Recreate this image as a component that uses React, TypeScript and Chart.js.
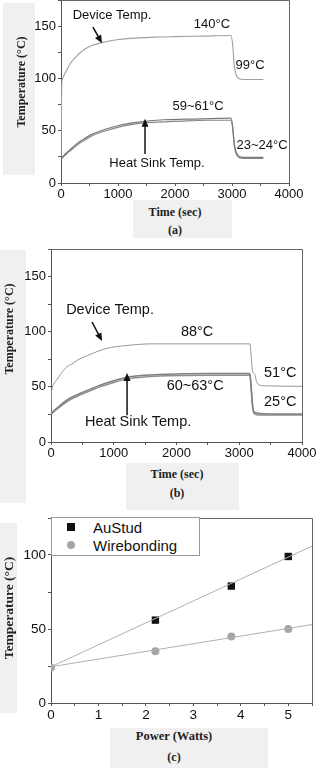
import React, { useEffect, useRef } from "react";
import { Chart, registerables } from "chart.js";
Chart.register(...registerables);

const SANS = '"Liberation Sans", Arial, sans-serif';
const SERIF = '"Liberation Serif", "Times New Roman", serif';

// ---------- Panel (a) data ----------
const timeDevA = [0, 8, 15, 30, 60, 100, 160, 250, 390, 520, 700, 980, 1300, 1650, 2000, 2500, 2980, 3010, 3040, 3070, 3100, 3140, 3250, 3550];
const deviceA = [25, 70, 96, 100, 104, 108, 114, 120, 127, 131, 134, 137, 138.5, 139.5, 140, 140.5, 141, 133, 112, 104, 101, 99.5, 99, 99];
const timeSinkA = [0, 20, 50, 100, 200, 300, 400, 520, 700, 980, 1200, 1450, 1800, 2200, 2600, 2980, 3010, 3040, 3070, 3100, 3140, 3250, 3550];
const sinkA1 = [23, 24.5, 26.5, 29, 34, 38.5, 42, 46, 50, 54.5, 57, 59, 60.5, 61, 61.5, 62, 55, 38, 30, 27, 25, 24.5, 24.5];
const sinkA2 = [22.5, 23.5, 25.5, 28, 32.5, 37, 40.5, 44.5, 48.5, 53, 55.5, 57.5, 58.5, 59.5, 60, 60, 53, 36, 28.5, 25.5, 24, 23.5, 23.5];

// ---------- Panel (b) data ----------
const timeDevB = [0, 5, 15, 40, 100, 200, 300, 330, 400, 520, 650, 780, 900, 1020, 1200, 1400, 1600, 2000, 2500, 3000, 3170, 3190, 3210, 3230, 3250, 3270, 3300, 3400, 4000];
const deviceB = [26, 42, 48, 52, 57, 65, 70, 70.5, 73.5, 77, 80, 83, 85, 86.3, 87.5, 88.5, 89, 89, 89, 89, 89, 78, 65, 62, 61, 56, 52.5, 51, 50.5];
const timeSinkB = [0, 20, 100, 250, 400, 520, 650, 780, 1000, 1200, 1500, 1850, 2500, 3170, 3190, 3210, 3230, 3260, 3300, 3500, 4000];
const sinkB1 = [25, 27, 31, 38, 42.5, 45.5, 48.5, 51.5, 55.5, 58.5, 60.5, 61.5, 62, 62, 50, 35, 28, 26.5, 26, 25.5, 25.5];
const sinkB2 = [24.5, 26, 30, 36.5, 41, 44, 47, 50, 54, 57, 59, 60, 60.5, 60.5, 48, 33, 26.5, 25, 24.5, 24.5, 24.5];

// ---------- Panel (c) data ----------
const powerAu = [2.2, 3.8, 5];
const auStud = [56, 79, 99];
const powerWire = [0, 2.2, 3.8, 5];
const wireBond = [24, 35, 45, 50];
const fitPower = [0, 5.5];
const fitAu = [24.5, 106];
const fitWire = [24.5, 53];

const pts = (xs: number[], ys: number[]) => xs.map((x, i) => ({ x, y: ys[i] }));

type Ann = { text: string; x: number; y: number };
type Arrow = { x1: number; y1: number; x2: number; y2: number };

function annotationPlugin(texts: Ann[], arrows: Arrow[], fontSize: number) {
  return {
    id: "annot",
    afterDatasetsDraw(chart: any) {
      const { ctx, scales } = chart;
      const xs = scales.x, ys = scales.y;
      ctx.save();
      ctx.fillStyle = "#111";
      ctx.strokeStyle = "#111";
      ctx.font = `${fontSize}px ${SANS}`;
      ctx.textAlign = "center";
      ctx.textBaseline = "middle";
      texts.forEach((t) => ctx.fillText(t.text, xs.getPixelForValue(t.x), ys.getPixelForValue(t.y)));
      arrows.forEach((a) => {
        const x1 = xs.getPixelForValue(a.x1), y1 = ys.getPixelForValue(a.y1);
        const x2 = xs.getPixelForValue(a.x2), y2 = ys.getPixelForValue(a.y2);
        const ang = Math.atan2(y2 - y1, x2 - x1);
        const L = 8, W = 3.5;
        ctx.lineWidth = 1.5;
        ctx.beginPath();
        ctx.moveTo(x1, y1);
        ctx.lineTo(x2 - L * 0.8 * Math.cos(ang), y2 - L * 0.8 * Math.sin(ang));
        ctx.stroke();
        ctx.beginPath();
        ctx.moveTo(x2, y2);
        ctx.lineTo(x2 - L * Math.cos(ang) + W * Math.sin(ang), y2 - L * Math.sin(ang) - W * Math.cos(ang));
        ctx.lineTo(x2 - L * Math.cos(ang) - W * Math.sin(ang), y2 - L * Math.sin(ang) + W * Math.cos(ang));
        ctx.closePath();
        ctx.fill();
      });
      ctx.restore();
    },
  };
}

const framePlugin = {
  id: "frame",
  afterDraw(chart: any) {
    const { ctx, chartArea: a } = chart;
    ctx.save();
    ctx.strokeStyle = "#666";
    ctx.lineWidth = 1;
    ctx.beginPath();
    ctx.moveTo(a.left, Math.round(a.top) + 0.5);
    ctx.lineTo(Math.round(a.right) + 0.5, Math.round(a.top) + 0.5);
    ctx.lineTo(Math.round(a.right) + 0.5, a.bottom);
    ctx.stroke();
    ctx.restore();
  },
};

const isMult = (v: number, m: number) => Math.abs(v / m - Math.round(v / m)) < 1e-6;

function axes(o: {
  xMin: number; xMax: number; xStep: number; xEvery: number;
  yMax: number; yStep: number; yEvery: number;
  yWidth: number; xHeight: number; font: number;
}) {
  const c = "#555";
  return {
    x: {
      type: "linear",
      min: o.xMin,
      max: o.xMax,
      ticks: {
        stepSize: o.xStep,
        autoSkip: false,
        maxRotation: 0,
        padding: 1,
        color: "#111",
        font: { family: SANS, size: o.font },
        callback: (v: number) => (isMult(v, o.xEvery) ? String(Math.round(v)) : ""),
      },
      grid: { drawOnChartArea: false, drawTicks: true, tickLength: 3, color: c, lineWidth: 1 },
      border: { display: true, color: c, width: 1 },
      afterFit: (s: any) => {
        s.height = o.xHeight;
        s.paddingLeft = 0;
        s.paddingRight = 0;
      },
    },
    y: {
      type: "linear",
      min: 0,
      max: o.yMax,
      ticks: {
        stepSize: o.yStep,
        autoSkip: false,
        padding: 2,
        color: "#111",
        font: { family: SANS, size: o.font },
        callback: (v: number) => (isMult(v, o.yEvery) ? String(Math.round(v)) : ""),
      },
      grid: { drawOnChartArea: false, drawTicks: true, tickLength: 3, color: c, lineWidth: 1 },
      border: { display: true, color: c, width: 1 },
      afterFit: (s: any) => {
        s.width = o.yWidth;
        s.paddingTop = 0;
        s.paddingBottom = 0;
      },
    },
  };
}

const lineDs = (data: any[], color: string, width: number) => ({
  data,
  borderColor: color,
  borderWidth: width,
  pointRadius: 0,
  fill: false,
  cubicInterpolationMode: "monotone",
  showLine: true,
});

function buildA() {
  return {
    type: "scatter",
    data: {
      datasets: [
        lineDs(pts(timeDevA, deviceA), "#a0a0a0", 1.1),
        lineDs(pts(timeSinkA, sinkA1), "#7a7a7a", 1.2),
        lineDs(pts(timeSinkA, sinkA2), "#888888", 1.2),
      ],
    },
    options: {
      animation: false,
      responsive: false,
      devicePixelRatio: 1,
      layout: { padding: { top: 0, right: 29, left: 0, bottom: 0 } },
      plugins: { legend: { display: false }, tooltip: { enabled: false } },
      scales: axes({ xMin: 0, xMax: 4000, xStep: 500, xEvery: 1000, yMax: 175, yStep: 25, yEvery: 50, yWidth: 61, xHeight: 17, font: 13 }),
    },
    plugins: [
      framePlugin,
      annotationPlugin(
        [
          { text: "Device Temp.", x: 895, y: 160.5 },
          { text: "140°C", x: 2649, y: 152 },
          { text: "99°C", x: 3316, y: 112.7 },
          { text: "59~61°C", x: 2404, y: 73.6 },
          { text: "Heat Sink Temp.", x: 1684, y: 19.1 },
          { text: "23~24°C", x: 3526, y: 36.3 },
        ],
        [
          { x1: 561, y1: 149, x2: 719, y2: 133.7 },
          { x1: 1474, y1: 27.7, x2: 1474, y2: 61.5 },
        ],
        13
      ),
    ],
  };
}

function buildB() {
  return {
    type: "scatter",
    data: {
      datasets: [
        lineDs(pts(timeDevB, deviceB), "#959595", 1),
        lineDs(pts(timeSinkB, sinkB1), "#808080", 1.5),
        lineDs(pts(timeSinkB, sinkB2), "#8e8e8e", 1.5),
      ],
    },
    options: {
      animation: false,
      responsive: false,
      devicePixelRatio: 1,
      layout: { padding: { top: 9, right: 16, left: 0, bottom: 0 } },
      plugins: { legend: { display: false }, tooltip: { enabled: false } },
      scales: axes({ xMin: 0, xMax: 4000, xStep: 500, xEvery: 1000, yMax: 175, yStep: 25, yEvery: 50, yWidth: 51, xHeight: 18, font: 13 }),
    },
    plugins: [
      framePlugin,
      annotationPlugin(
        [
          { text: "Device Temp.", x: 941, y: 120 },
          { text: "88°C", x: 2329, y: 100 },
          { text: "51°C", x: 3653, y: 62.5 },
          { text: "60~63°C", x: 2297, y: 50.6 },
          { text: "25°C", x: 3653, y: 36.1 },
          { text: "Heat Sink Temp.", x: 1388, y: 18 },
        ],
        [
          { x1: 654, y1: 108.8, x2: 813, y2: 91.5 },
          { x1: 1212, y1: 24.3, x2: 1212, y2: 62.5 },
        ],
        14.5
      ),
    ],
  };
}

function buildC() {
  return {
    type: "scatter",
    data: {
      datasets: [
        { data: pts(fitPower, fitAu), showLine: true, borderColor: "#b0b0b0", borderWidth: 1, pointRadius: 0 },
        { data: pts(fitPower, fitWire), showLine: true, borderColor: "#b0b0b0", borderWidth: 1, pointRadius: 0 },
        {
          label: "Wirebonding",
          data: pts(powerWire, wireBond),
          showLine: false,
          pointStyle: "circle",
          pointRadius: 4,
          backgroundColor: "#a6a6a6",
          borderColor: "#a6a6a6",
          borderWidth: 0,
        },
        {
          label: "AuStud",
          data: pts(powerAu, auStud),
          showLine: false,
          pointStyle: "rect",
          pointRadius: 5.2,
          backgroundColor: "#111",
          borderColor: "#111",
          borderWidth: 0,
        },
      ],
    },
    options: {
      animation: false,
      responsive: false,
      devicePixelRatio: 1,
      layout: { padding: { top: 10, right: 6, left: 0, bottom: 0 } },
      plugins: { legend: { display: false }, tooltip: { enabled: false } },
      scales: axes({ xMin: 0, xMax: 5.5, xStep: 0.5, xEvery: 1, yMax: 125, yStep: 25, yEvery: 50, yWidth: 51, xHeight: 20, font: 13.5 }),
    },
    plugins: [framePlugin],
  };
}

function ChartCanvas({ top, height, build }: { top: number; height: number; build: () => any }) {
  const ref = useRef<HTMLCanvasElement>(null);
  useEffect(() => {
    const chart = new Chart(ref.current as HTMLCanvasElement, build());
    return () => chart.destroy();
  }, []);
  return (
    <canvas
      ref={ref}
      width={318}
      height={height}
      style={{ position: "absolute", left: 0, top, width: 318, height, zIndex: 1 }}
    />
  );
}

const box = (left: number, top: number, width: number, height: number): React.CSSProperties => ({
  position: "absolute", left, top, width, height, background: "#f0f0f0", zIndex: 0,
});

const label = (cx: number, cy: number, size: number, rotate = false): React.CSSProperties => ({
  position: "absolute",
  left: cx,
  top: cy,
  width: 0,
  height: 0,
  zIndex: 2,
});

const labelInner = (size: number, rotate = false): React.CSSProperties => ({
  position: "absolute",
  left: 0,
  top: 0,
  transform: `translate(-50%, -50%)${rotate ? " rotate(-90deg)" : ""}`,
  whiteSpace: "nowrap",
  fontFamily: SERIF,
  fontWeight: "bold",
  fontSize: size,
  color: "#222",
  lineHeight: 1,
});

function Title({ cx, cy, size, rotate, text }: { cx: number; cy: number; size: number; rotate?: boolean; text: string }) {
  return (
    <div style={label(cx, cy, size, rotate)}>
      <div style={labelInner(size, rotate)}>{text}</div>
    </div>
  );
}

export default function App() {
  return (
    <div style={{ position: "absolute", left: 0, top: 0, width: 318, height: 768, overflow: "hidden", background: "#fff" }}>
      {/* background gray strips behind titles */}
      <div style={box(3, 3, 32, 172)} />
      <div style={box(133, 200, 99, 38)} />
      <div style={box(0, 250, 26, 253)} />
      <div style={box(126, 463, 113, 47)} />
      <div style={box(0, 523, 17, 190)} />
      <div style={box(110, 728, 158, 40)} />

      <ChartCanvas top={0} height={200} build={buildA} />
      <ChartCanvas top={240} height={220} build={buildB} />
      <ChartCanvas top={508} height={215} build={buildC} />

      {/* axis titles */}
      <Title cx={21} cy={82} size={12} rotate text="Temperature (°C)" />
      <Title cx={175} cy={212} size={12} text="Time (sec)" />
      <Title cx={175} cy={230} size={12} text="(a)" />

      <Title cx={9} cy={329} size={12} rotate text="Temperature (°C)" />
      <Title cx={177} cy={474} size={12} text="Time (sec)" />
      <Title cx={177} cy={493} size={12} text="(b)" />

      <Title cx={9} cy={608} size={13.5} rotate text="Temperature (°C)" />
      <Title cx={174} cy={736} size={12.5} text="Power (Watts)" />
      <Title cx={174} cy={757} size={12} text="(c)" />

      {/* legend for (c) */}
      <div style={{ position: "absolute", left: 51, top: 517, width: 149, height: 39, border: "1px solid #999", background: "#fff", boxSizing: "border-box", zIndex: 3 }} />
      <div style={{ position: "absolute", left: 67, top: 523, width: 8, height: 8, background: "#111", zIndex: 4 }} />
      <div style={{ position: "absolute", left: 67, top: 541, width: 8, height: 8, borderRadius: "50%", background: "#a6a6a6", zIndex: 4 }} />
      <div style={{ position: "absolute", left: 93, top: 527, transform: "translateY(-50%)", fontFamily: SANS, fontSize: 15, lineHeight: 1, color: "#111", zIndex: 4 }}>AuStud</div>
      <div style={{ position: "absolute", left: 93, top: 545, transform: "translateY(-50%)", fontFamily: SANS, fontSize: 15, lineHeight: 1, color: "#111", zIndex: 4 }}>Wirebonding</div>
    </div>
  );
}
